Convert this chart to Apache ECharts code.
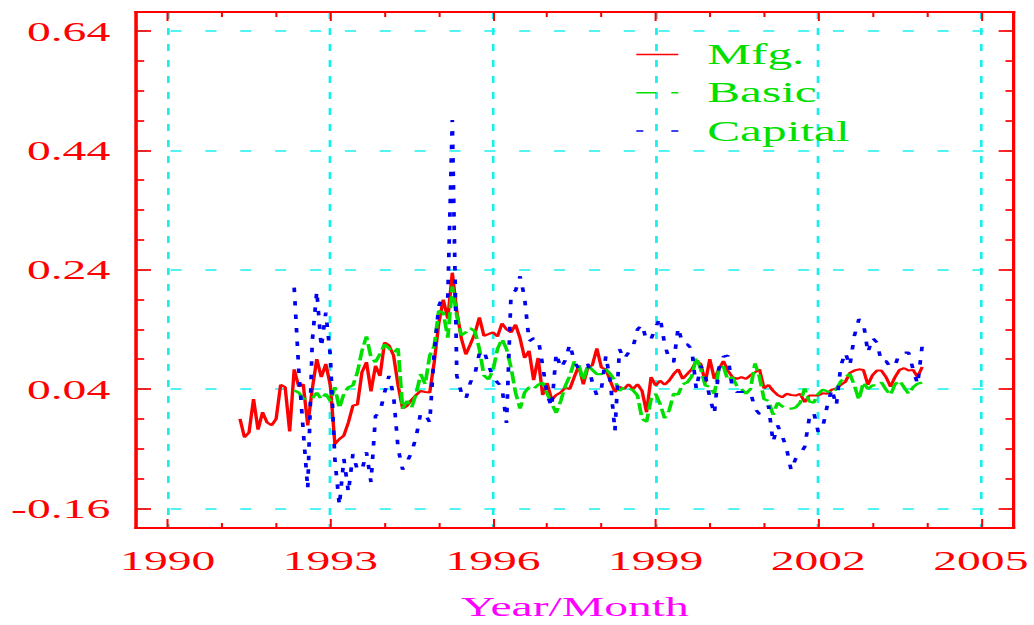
<!DOCTYPE html>
<html><head><meta charset="utf-8">
<script src="https://cdn.jsdelivr.net/npm/echarts@6/dist/echarts.min.js"></script>
<style>
html,body{margin:0;padding:0;background:#fff;overflow:hidden}
#wrap{width:1034px;height:625px;overflow:hidden;position:relative;background:#fff}
#chart{width:608px;height:625px;transform:scaleX(1.700658);transform-origin:0 0}
</style></head>
<body><div id="wrap"><div id="chart"></div></div>
<script>
// ---- data (monthly) ----
const mfgStart = [1991, 5];   // May 1991
const mfg = [
-0.010,-0.041,-0.033,0.023,-0.028,0.001,-0.016,-0.021,-0.010,0.047,
0.043,-0.031,0.073,0.044,0.048,-0.021,0.040,0.090,0.060,0.082,
0.046,-0.052,-0.044,-0.038,-0.016,0.012,0.014,0.068,0.085,0.036,
0.079,0.062,0.118,0.113,0.096,0.046,0.007,0.012,0.022,0.030,
0.037,0.035,0.034,0.085,0.150,0.190,0.158,0.235,0.170,0.125,
0.098,0.115,0.133,0.160,0.129,0.132,0.135,0.128,0.150,0.140,
0.135,0.148,0.125,0.092,0.104,0.055,0.092,0.030,0.050,0.022,
0.030,0.034,0.042,0.040,0.060,0.079,0.048,0.076,0.080,0.108,
0.076,0.073,0.053,0.035,0.044,0.040,0.048,0.040,0.048,0.037,
0.001,0.060,0.046,0.054,0.047,0.054,0.065,0.073,0.057,0.065,
0.073,0.087,0.082,0.051,0.090,0.057,0.073,0.087,0.071,0.060,
0.057,0.060,0.057,0.063,0.068,0.073,0.041,0.047,0.037,0.030,
0.026,0.032,0.030,0.029,0.032,0.018,0.029,0.029,0.029,0.033,
0.032,0.039,0.041,0.047,0.052,0.067,0.071,0.073,0.072,0.047,
0.063,0.071,0.071,0.060,0.044,0.060,0.072,0.075,0.071,0.072,
0.060,0.077
];
const basicStart = [1992, 5]; // May 1992
const basic = [
0.038,0.034,0.024,0.023,0.024,0.034,0.023,0.032,0.020,0.043,
0.008,0.032,0.043,0.046,0.068,0.104,0.128,0.093,0.085,0.099,
0.115,0.108,0.101,0.108,0.007,0.020,0.009,0.032,0.065,0.048,
0.096,0.112,0.171,0.168,0.126,0.212,0.162,0.130,0.135,0.142,
0.137,0.107,0.063,0.056,0.071,0.107,0.124,0.107,0.076,0.034,
0.007,0.034,0.043,0.040,0.047,0.051,0.032,0.016,0.000,0.020,
0.045,0.062,0.086,0.080,0.055,0.080,0.072,0.065,0.065,0.073,
0.065,0.054,0.037,0.043,0.041,0.038,0.029,-0.010,-0.015,0.023,
0.032,0.015,-0.009,0.004,0.032,0.031,0.048,0.051,0.061,0.093,
0.073,0.046,0.044,0.032,0.073,0.078,0.055,0.060,0.045,0.040,
0.032,0.040,0.083,0.060,0.023,0.020,-0.003,0.017,0.011,0.007,
0.007,0.009,0.017,0.041,0.019,0.017,0.032,0.039,0.036,0.033,
0.040,0.053,0.060,0.065,0.046,0.022,0.051,0.040,0.046,0.046,
0.051,0.039,0.030,0.048,0.054,0.043,0.032,0.043,0.049,0.051
];
const capitalStart = [1992, 5]; // May 1992
const capital = [
0.210,0.073,-0.030,-0.127,0.120,0.204,0.110,0.168,0.096,-0.077,
-0.155,-0.077,-0.133,-0.069,-0.096,-0.096,-0.066,-0.116,-0.005,0.001,
0.034,0.062,0.029,-0.060,-0.095,-0.082,-0.066,-0.040,0.000,-0.002,
-0.016,0.101,0.179,0.197,0.194,0.491,0.062,0.034,0.023,0.051,
0.065,0.100,0.105,0.080,0.060,0.051,0.043,-0.017,0.200,0.205,
0.229,0.193,0.120,0.125,0.125,0.080,0.030,0.010,0.100,0.075,
0.088,0.115,0.087,0.073,0.076,0.082,0.051,0.029,0.040,0.096,
0.051,-0.030,0.107,0.090,0.101,0.110,0.140,0.148,0.121,0.124,
0.143,0.160,0.115,0.090,0.085,0.143,0.115,0.115,0.107,0.040,
0.079,0.062,0.026,-0.002,0.075,0.094,0.096,0.040,0.035,0.035,
0.035,0.035,0.007,-0.002,0.001,0.012,-0.049,-0.021,-0.038,-0.060,
-0.096,-0.077,-0.069,-0.057,-0.010,0.001,-0.032,-0.024,0.012,0.040,
0.012,0.079,0.101,0.079,0.129,0.157,0.151,0.101,0.126,0.118,
0.085,0.087,0.076,0.079,0.101,0.101,0.101,0.073,0.048,0.112
];
const seriesNames = ['Mfg.', 'Basic', 'Capital'];
const xMajor = [1990, 1993, 1996, 1999, 2002, 2005];
const xMinor = [1991, 1992, 1994, 1995, 1997, 1998, 2000, 2001, 2003, 2004];
const yMajor = [-0.16, 0.04, 0.24, 0.44, 0.64];
const yMinor = [-0.11, -0.06, -0.01, 0.09, 0.14, 0.19, 0.29, 0.34, 0.39, 0.49, 0.54, 0.59];
const xName = 'Year/Month';

// ---- helpers ----
function toPairs(start, vals) {
  return vals.map((v, i) => [start[0] + (start[1] - 1 + i) / 12, v]);
}
const X_MIN = 1989.41, X_MAX = 2005.61;
const Y_MIN = -0.193, Y_MAX = 0.672;
const RED = '#ff0000', GREEN = '#00e000', BLUE = '#0000f0', CYAN = '#18f0f0', MAG = '#ff00ff';
const FONT = 'Liberation Serif';

function xAx(pos, ticks, len, extra) {
  return Object.assign({
    type: 'value', position: pos, min: X_MIN, max: X_MAX,
    axisLine: { show: true, onZero: false, lineStyle: { color: RED, width: 1.8 } },
    axisTick: { show: true, inside: true, length: len, customValues: ticks, lineStyle: { color: RED, width: 1.2 } },
    axisLabel: { show: false },
    splitLine: { show: false },
    minorTick: { show: false }, minorSplitLine: { show: false }
  }, extra || {});
}
function yAx(pos, ticks, len, extra) {
  return Object.assign({
    type: 'value', position: pos, min: Y_MIN, max: Y_MAX,
    axisLine: { show: true, onZero: false, lineStyle: { color: RED, width: 1.8 } },
    axisTick: { show: true, inside: true, length: len, customValues: ticks, lineStyle: { color: RED, width: 1.7 } },
    axisLabel: { show: false },
    splitLine: { show: false },
    minorTick: { show: false }, minorSplitLine: { show: false }
  }, extra || {});
}
const hiddenSymbol = { color: 'rgba(0,0,0,0)', borderWidth: 0, opacity: 0 };

const chart = echarts.init(document.getElementById('chart'), null, { renderer: 'svg' });
chart.setOption({
  animation: false,
  backgroundColor: '#ffffff',
  grid: { left: 79.8, right: 11.8, top: 12, bottom: 97, outerBoundsMode: 'none', containLabel: false },
  legend: {
    orient: 'vertical', left: 373.4, top: 40, padding: 0, itemWidth: 24.7, itemHeight: 14, itemGap: 9.3,
    selectedMode: false,
    textStyle: { color: GREEN, fontFamily: FONT, fontSize: 29, padding: [0, 0, 0, 12] },
    data: [
      { name: seriesNames[0], lineStyle: { width: 1.5, type: 'solid' }, itemStyle: hiddenSymbol },
      { name: seriesNames[1], lineStyle: { width: 1.5, type: [11.8, 8.8] }, itemStyle: hiddenSymbol },
      { name: seriesNames[2], lineStyle: { width: 1.5, type: [4.1, 16.5] }, itemStyle: hiddenSymbol }
    ]
  },
  xAxis: [
    xAx('bottom', xMajor, 9, {
      axisLabel: { show: true, customValues: xMajor, margin: 18, color: RED, fontFamily: FONT, fontSize: 28,
                   formatter: v => String(Math.round(v)) },
      splitLine: { show: true, lineStyle: { color: CYAN, width: 1.6, type: [7, 9] } },
      name: xName, nameLocation: 'middle', nameGap: 64, nameMoveOverlap: false,
      nameTextStyle: { color: MAG, fontFamily: FONT, fontSize: 28 }
    }),
    xAx('bottom', xMinor, 5),
    xAx('top', xMajor, 9),
    xAx('top', xMinor, 5)
  ],
  yAxis: [
    yAx('left', yMajor, 9, {
      axisLabel: { show: true, customValues: yMajor, margin: 15, color: RED, fontFamily: FONT, fontSize: 28,
                   formatter: v => v.toFixed(2) },
      splitLine: { show: true, lineStyle: { color: CYAN, width: 1.6, type: [6.5, 14] } }
    }),
    yAx('left', yMinor, 5),
    yAx('right', yMajor, 9),
    yAx('right', yMinor, 5)
  ],
  series: [
    { name: seriesNames[0], type: 'line', data: toPairs(mfgStart, mfg), symbol: 'none', showSymbol: false,
      xAxisIndex: 0, yAxisIndex: 0, lineStyle: { color: RED, width: 2 }, itemStyle: { color: RED } },
    { name: seriesNames[1], type: 'line', data: toPairs(basicStart, basic), symbol: 'none', showSymbol: false,
      xAxisIndex: 0, yAxisIndex: 0, lineStyle: { color: GREEN, width: 2.2, type: [12, 4] }, itemStyle: { color: GREEN } },
    { name: seriesNames[2], type: 'line', data: toPairs(capitalStart, capital), symbol: 'none', showSymbol: false,
      xAxisIndex: 0, yAxisIndex: 0, lineStyle: { color: BLUE, width: 2.2, type: [4.5, 9] }, itemStyle: { color: BLUE } }
  ]
});
</script></body></html>
